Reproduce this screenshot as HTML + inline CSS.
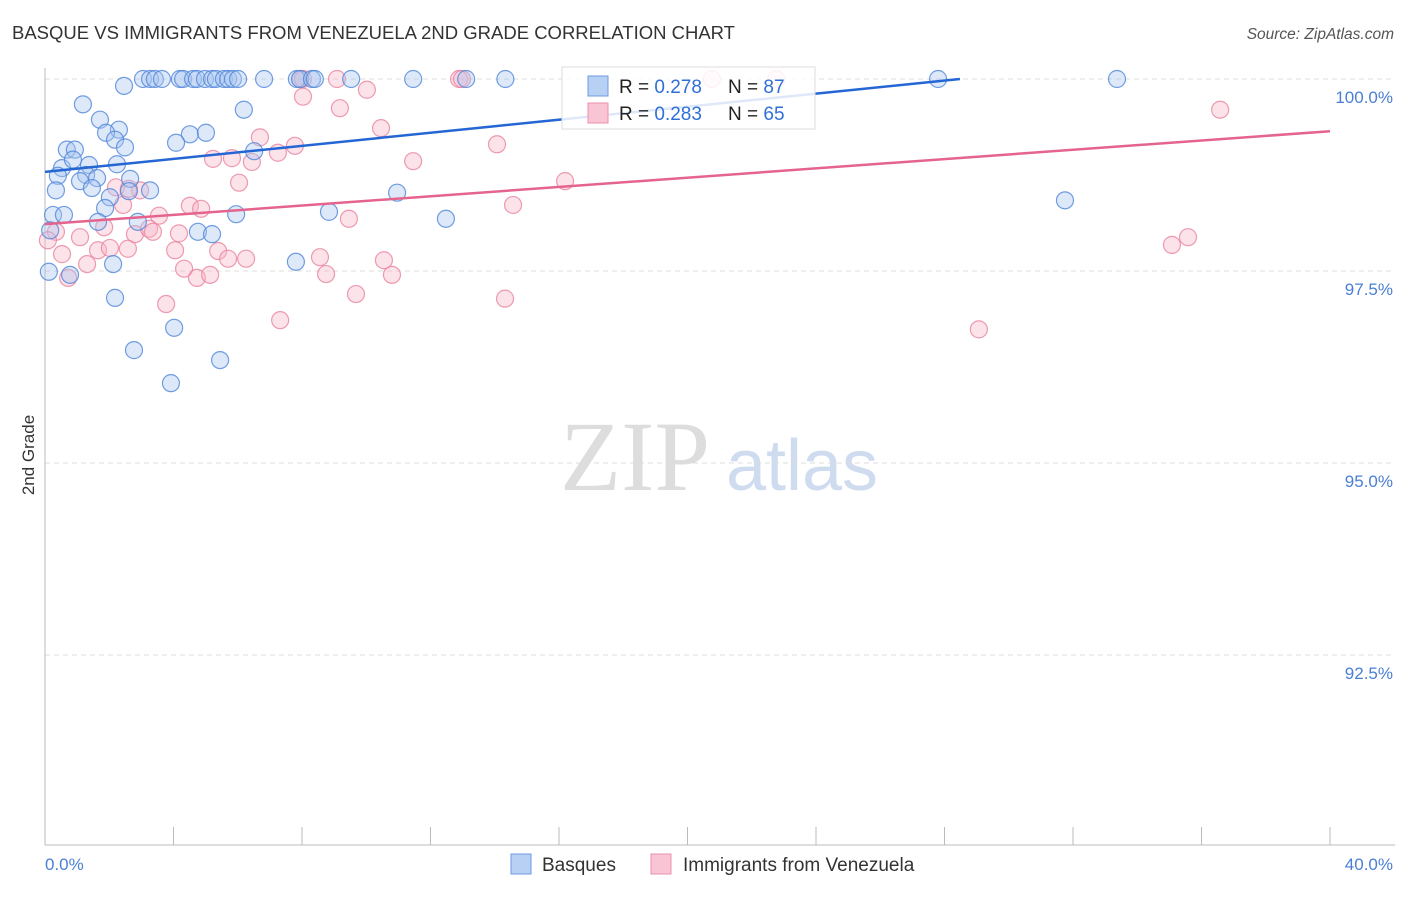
<!DOCTYPE html>
<html><head><meta charset="utf-8"><style>
body{margin:0;background:#fff;font-family:"Liberation Sans",sans-serif;}
#wrap{position:relative;width:1406px;height:892px;}
</style></head><body>
<div id="wrap">
<svg id="svg" width="1406" height="892">
<text x="12" y="39" font-size="18.5" fill="#333">BASQUE VS IMMIGRANTS FROM VENEZUELA 2ND GRADE CORRELATION CHART</text>
<text x="1394" y="39" font-size="15.5" fill="#555" text-anchor="end" font-style="italic">Source: ZipAtlas.com</text>
<text x="635" y="490" font-size="100" fill="#ddd" font-family="Liberation Serif,serif" text-anchor="middle">ZIP</text>
<text x="802" y="490" font-size="72" fill="#cfdcf0" text-anchor="middle">atlas</text>
<text transform="translate(34,455) rotate(-90)" font-size="17" fill="#333" text-anchor="middle">2nd Grade</text>
<g id="grid"></g><g id="pts"></g><g id="lines"></g>
<g>
<rect x="562" y="67" width="253" height="62" fill="#fff" fill-opacity="0.85" stroke="#ddd"/>
<rect x="588" y="76" width="20" height="20" fill="#b8d0f4" stroke="#6c9be0"/>
<rect x="588" y="103" width="20" height="20" fill="#f9c4d4" stroke="#ec90ad"/>
<text x="619" y="93" font-size="19" fill="#222">R = <tspan fill="#2f6fd8">0.278</tspan><tspan x="728">N = </tspan><tspan fill="#2f6fd8">87</tspan></text>
<text x="619" y="120" font-size="19" fill="#222">R = <tspan fill="#2f6fd8">0.283</tspan><tspan x="728">N = </tspan><tspan fill="#2f6fd8">65</tspan></text>
</g>
<g>
<rect x="511" y="854" width="20" height="20" fill="#b8d0f4" stroke="#6c9be0"/>
<text x="542" y="871" font-size="19" fill="#333">Basques</text>
<rect x="651" y="854" width="20" height="20" fill="#f9c4d4" stroke="#ec90ad"/>
<text x="683" y="871" font-size="19" fill="#333">Immigrants from Venezuela</text>
</g>
</svg>
</div>
<script>
const xTicks=[0,40];
const yTicks=[100,97.5,95,92.5];
const blueX=[3.05,3.27,3.42,3.64,4.20,4.30,4.61,4.73,4.98,5.20,5.32,5.57,5.70,5.85,6.01,6.82,7.84,7.94,8.31,8.40,9.53,11.46,13.11,14.33,27.80,33.37,2.46,1.18,6.19,1.71,4.51,5.01,2.30,4.08,1.90,2.18,2.49,0.68,0.93,0.53,1.37,2.24,0.87,0.40,1.28,1.62,1.09,2.65,1.46,0.34,3.27,2.61,2.02,1.87,10.96,0.25,0.59,1.65,2.89,5.95,8.84,12.48,31.75,0.16,4.76,5.20,0.12,0.78,2.12,7.81,2.18,4.02,2.77,5.45,3.92,6.51];
const blueY=[100,100,100,100,100,100,100,100,100,100,100,100,100,100,100,100,100,100,100,100,100,100,100,100,100,100,99.91,99.67,99.60,99.47,99.28,99.30,99.34,99.17,99.30,99.21,99.11,99.08,99.08,98.84,98.88,98.89,98.95,98.74,98.75,98.71,98.67,98.70,98.58,98.55,98.55,98.54,98.46,98.32,98.52,98.23,98.23,98.14,98.14,98.24,98.27,98.18,98.42,98.03,98.01,97.98,97.49,97.45,97.59,97.62,97.15,96.76,96.47,96.34,96.04,99.06];
const pinkX=[7.94,8.03,9.09,12.89,12.98,20.76,22.76,8.03,10.02,9.18,36.58,10.46,6.69,7.78,7.25,5.23,5.82,6.44,11.46,14.07,6.04,16.19,2.21,2.96,2.43,4.51,4.86,3.55,14.57,9.46,1.84,0.34,1.09,2.80,3.24,3.36,4.17,1.65,2.02,2.58,4.05,0.53,5.39,5.70,6.26,8.56,10.55,1.31,4.33,8.75,10.80,4.73,5.14,0.72,35.08,35.58,3.77,9.68,14.32,7.32,29.07,0.09,2.61];
const pinkY=[100,100,100,100,100,100,100,99.77,99.86,99.62,99.60,99.36,99.24,99.13,99.04,98.96,98.97,98.92,98.93,99.15,98.65,98.67,98.59,98.55,98.36,98.35,98.31,98.22,98.36,98.18,98.07,98.01,97.94,97.98,98.05,98.01,97.99,97.77,97.80,97.79,97.77,97.72,97.76,97.66,97.66,97.68,97.64,97.59,97.53,97.46,97.45,97.41,97.45,97.41,97.84,97.94,97.07,97.20,97.14,96.86,96.74,97.90,98.57];
const blueTrend=[[0,98.79],[28.48,100]];
const pinkTrend=[[0,98.11],[40,99.32]];
const NS='http://www.w3.org/2000/svg';
const sx=v=>45+v/40*1285;
const sy=v=>79+(100-v)/2.5*192;
function mk(tag,attrs,parent){const e=document.createElementNS(NS,tag);for(const k in attrs)e.setAttribute(k,attrs[k]);parent.appendChild(e);return e;}
const grid=document.getElementById('grid');
yTicks.forEach(t=>{
 const l=mk('line',{x1:45,x2:1395,y1:sy(t),y2:sy(t),stroke:'#ddd','stroke-dasharray':'5,4'},grid);
 
 
 const tx=mk('text',{x:1393,y:sy(t)+24,'font-size':17,fill:'#4a7fd4','text-anchor':'end'},grid);
 tx.textContent=t.toFixed(1)+'%';
 
 
});
const ax=mk('line',{x1:45,x2:45,y1:68,y2:845,stroke:'#bbb'},grid);


const bx=mk('line',{x1:45,x2:1395,y1:845,y2:845,stroke:'#bbb'},grid);


for(let i=0;i<=10;i++){const x=sx(i*4);const tk=mk('line',{x1:x,x2:x,y1:827,y2:845,stroke:'#bbb'},grid);
 
 }
xTicks.forEach((t,i)=>{const tx=mk('text',{x:i==0?45:1393,y:870,'font-size':17,fill:'#4a7fd4','text-anchor':i==0?'start':'end'},grid);
 tx.textContent=t.toFixed(1)+'%';
 
 });
const pts=document.getElementById('pts');
function plot(X,Y,fill,stroke,name){X.forEach((x,i)=>{const c=mk('circle',{cx:sx(x),cy:sy(Y[i]),r:8.5,fill:fill,'fill-opacity':0.4,stroke:stroke,'stroke-width':1.2,'stroke-opacity':0.8},pts);
 
 });}
plot(pinkX,pinkY,'#f7b6c9','#e8839f','venezuela-point');
plot(blueX,blueY,'#a9c6f0','#4f86d9','basque-point');
const lines=document.getElementById('lines');
const bl=mk('line',{x1:sx(blueTrend[0][0]),y1:sy(blueTrend[0][1]),x2:sx(blueTrend[1][0]),y2:sy(blueTrend[1][1]),stroke:'#2466d4','stroke-width':2.5},lines);


const pl=mk('line',{x1:sx(pinkTrend[0][0]),y1:sy(pinkTrend[0][1]),x2:sx(pinkTrend[1][0]),y2:sy(pinkTrend[1][1]),stroke:'#e5648e','stroke-width':2.5},lines);


</script>
</body></html>
